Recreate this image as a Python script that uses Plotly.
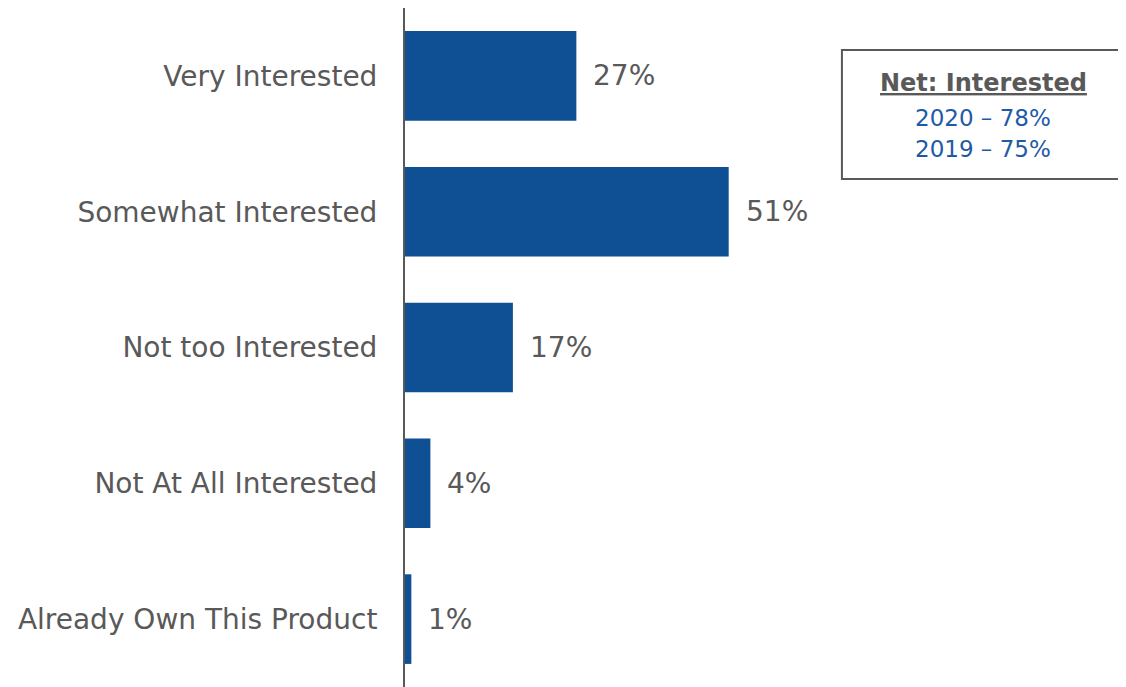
import plotly.graph_objects as go

# survey categories, top to bottom
categories = ["Very Interested", "Somewhat Interested", "Not too Interested",
              "Not At All Interested", "Already Own This Product"]
values = [27, 51, 17, 4, 1]
value_labels = ["27%", "51%", "17%", "4%", "1%"]

net_title = "Net: Interested"
net_lines = ["2020 – 78%", "2019 – 75%"]

gray = "#595959"
blue = "#0F4F94"
font_family = "DejaVu Sans"

fig = go.Figure()
fig.add_trace(go.Bar(
    x=values,
    y=categories,
    orientation="h",
    marker=dict(color=blue, line=dict(width=0)),
    hoverinfo="skip",
))

# value labels to the right of each bar
for v, c, t in zip(values, categories, value_labels):
    fig.add_annotation(x=v, y=c, text=t, xref="x", yref="y",
                       xanchor="left", yanchor="middle", xshift=15, showarrow=False,
                       font=dict(family=font_family, size=28, color=gray))

# net box
fig.add_shape(type="rect", xref="paper", yref="paper",
              x0=0.606, x1=0.997, y0=0.748, y1=0.938,
              line=dict(color=gray, width=2), fillcolor="white")
fig.add_annotation(xref="paper", yref="paper", x=0.802, y=0.889,
                   text="<b><u>" + net_title + "</u></b>", showarrow=False,
                   xanchor="center", yanchor="middle",
                   font=dict(family=font_family, size=24, color=gray))
for i, line in enumerate(net_lines):
    fig.add_annotation(xref="paper", yref="paper", x=0.802, y=0.838 - i * 0.045,
                       text=line, showarrow=False, xanchor="center", yanchor="middle",
                       font=dict(family=font_family, size=23, color="#1F5AA6"))

# page body has an 8px margin, so the figure is sized to fit the window
fig.update_layout(
    width=1118, height=679,
    margin=dict(l=397, r=0, t=0, b=0),
    paper_bgcolor="white", plot_bgcolor="white",
    bargap=0.34,
    showlegend=False,
    font=dict(family=font_family, color=gray),
)
fig.update_xaxes(range=[0, 113.6], visible=False, showgrid=False, zeroline=False)
fig.update_yaxes(autorange="reversed", showgrid=False, zeroline=False,
                 showline=True, linecolor=gray, linewidth=2,
                 ticks="", ticklabelstandoff=20,
                 tickfont=dict(family=font_family, size=28, color=gray))

fig.write_html("out.html")
